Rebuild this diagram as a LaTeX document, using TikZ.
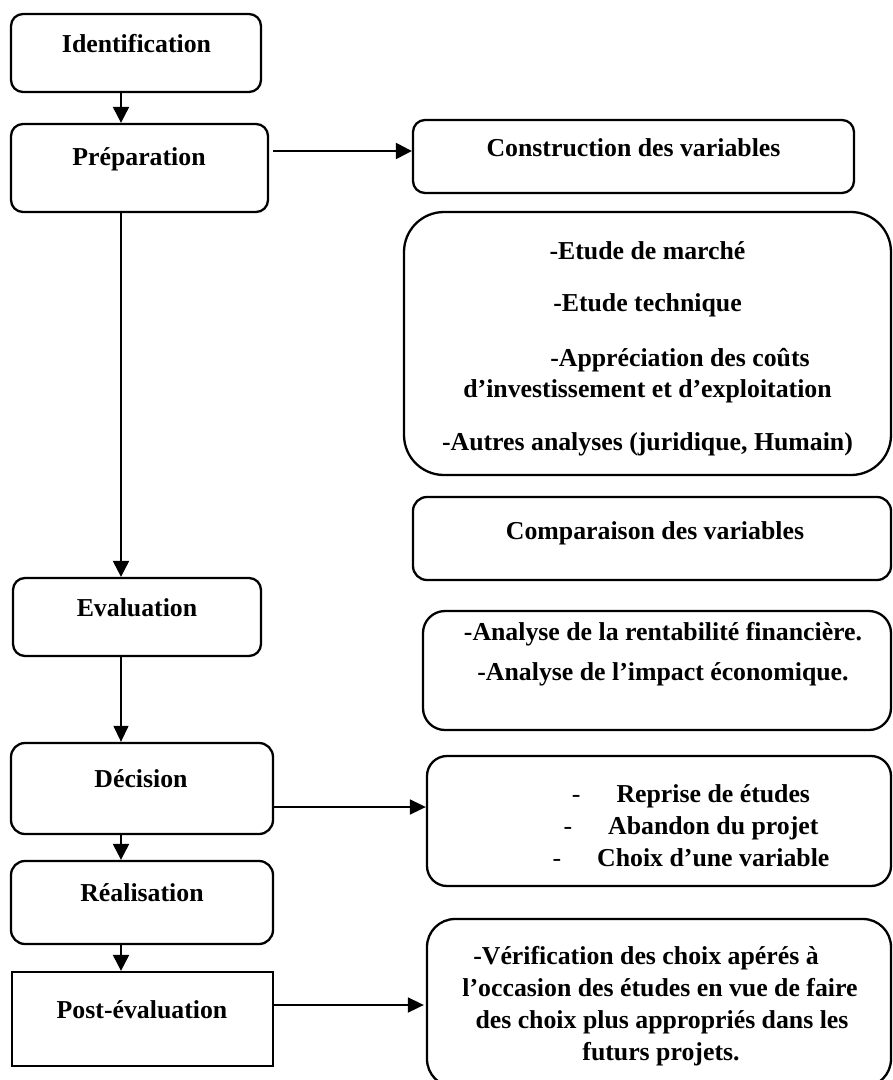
\documentclass[tikz,border=0pt]{standalone}
\usepackage{fontspec}
\setmainfont{Liberation Serif}
\usetikzlibrary{arrows.meta}
\begin{document}
\begin{tikzpicture}[x=1pt,y=-1pt,
  box/.style={draw, line width=2.3pt, rounded corners=12pt, inner sep=0pt},
  sharpbox/.style={draw, line width=2.3pt, inner sep=0pt},
  txt/.style={anchor=base, inner sep=0pt, font=\fontsize{25.8}{31}\selectfont\bfseries},
  arr/.style={-{Triangle[length=16pt,width=16pt]}, line width=2.3pt},
  thinarr/.style={-{Triangle[length=16pt,width=15pt]}, line width=1.2pt},
  midarr/.style={-{Triangle[length=16pt,width=15pt]}, line width=1.8pt}]
\useasboundingbox (0,0) rectangle (893,1080);

% left column
\node[box, minimum width=250pt, minimum height=78pt] (ident) at (136,53) {};
\node[txt] (tident) at (136.5,52) {Identification};
\node[box, minimum width=257pt, minimum height=88pt] (prep) at (139.5,168) {};
\node[txt] (tprep) at (139,165) {Préparation};
\node[box, minimum width=248pt, minimum height=78pt] (evalu) at (137,617) {};
\node[txt] (tevalu) at (137,616) {Evaluation};
\node[box, rounded corners=14pt, minimum width=262pt, minimum height=91pt] (decis) at (142,788.5) {};
\node[txt] (tdecis) at (141,787) {Décision};
\node[box, rounded corners=14pt, minimum width=262pt, minimum height=83pt] (realis) at (142,902.5) {};
\node[txt] (trealis) at (142,901) {Réalisation};
\node[sharpbox, minimum width=261pt, minimum height=94pt] (post) at (142.5,1019) {};
\node[txt] (tpost) at (142,1018) {Post-évaluation};

% right column
\node[box, minimum width=441pt, minimum height=73pt] (constr) at (633.5,156.5) {};
\node[txt] (tconstr) at (633.5,156) {Construction des variables};

\node[box, rounded corners=40pt, minimum width=487pt, minimum height=263pt] (etudes) at (647.5,343.5) {};
\node[txt] (te1) at (647.5,259) {-Etude de marché};
\node[txt] (te2) at (647.5,311) {-Etude technique};
\node[txt] (te3) at (680,366) {-Appréciation des coûts};
\node[txt] (te4) at (647.5,397) {d’investissement et d’exploitation};
\node[txt] (te5) at (647.5,450) {-Autres analyses (juridique, Humain)};

\node[box, rounded corners=14pt, minimum width=478pt, minimum height=83pt] (compar) at (652,538.5) {};
\node[txt] (tcompar) at (655,539) {Comparaison des variables};

\node[box, rounded corners=22pt, minimum width=468pt, minimum height=119pt] (analyse) at (657,670.5) {};
\node[txt] (ta1) at (663,640) {-Analyse de la rentabilité financière.};
\node[txt] (ta2) at (663,680) {-Analyse de l’impact économique.};

\node[box, rounded corners=20pt, minimum width=464pt, minimum height=130pt] (choix) at (659,821) {};
\node[txt] (tc1) at (691,802) {{\mdseries -}\hspace{36pt}Reprise de études};
\node[txt] (tc2) at (691,834) {{\mdseries -}\hspace{36pt}Abandon du projet};
\node[txt] (tc3) at (691,866.5) {{\mdseries -}\hspace{36pt}Choix d’une variable};

\node[box, rounded corners=28pt, minimum width=464pt, minimum height=168pt] (verif) at (659,1003) {};
\node[txt] (tv1) at (646,964) {-Vérification des choix apérés à};
\node[txt] (tv2) at (660,996) {l’occasion des études en vue de faire};
\node[txt] (tv3) at (662,1028) {des choix plus appropriés dans les};
\node[txt] (tv4) at (661,1060) {futurs projets.};

% connectors
\coordinate (spine) at (121,0);
\draw[arr] (ident.south -| spine) -- (prep.north -| spine);
\draw[arr] (prep.south -| spine) -- (evalu.north -| spine);
\draw[thinarr] (evalu.south -| spine) -- (decis.north -| spine);
\draw[arr] (decis.south -| spine) -- (realis.north -| spine);
\draw[arr] (realis.south -| spine) -- (post.north -| spine);

\coordinate (a1) at ([xshift=4pt,yshift=17pt]prep.east);
\draw[arr] (a1) -- (a1 -| constr.west);
\coordinate (a2) at ([yshift=-18.5pt]decis.east);
\draw[midarr] (a2) -- (a2 -| choix.west);
\coordinate (a3) at ([yshift=14pt]post.east);
\draw[midarr] (a3) -- ([xshift=-2pt]a3 -| verif.west);
\end{tikzpicture}
\end{document}
